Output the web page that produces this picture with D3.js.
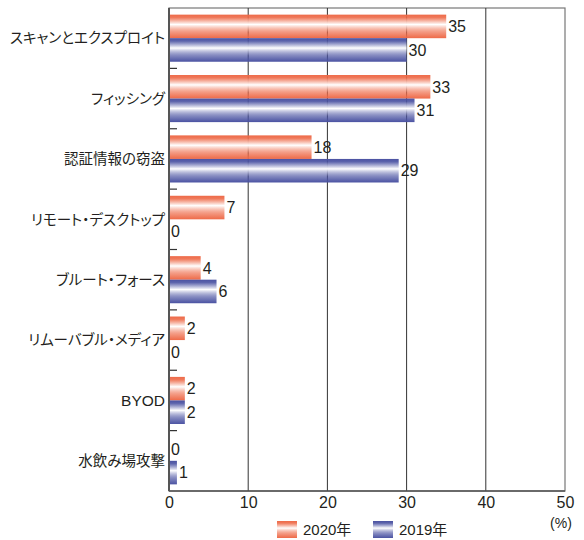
<!DOCTYPE html>
<html>
<head>
<meta charset="utf-8">
<script src="https://cdn.jsdelivr.net/npm/d3@7/dist/d3.min.js"></script>
<style>
  body { margin: 0; background: #fff; }
  svg { display: block; }
  .cat { font-feature-settings: "palt"; }
</style>
</head>
<body>
<svg id="chart" width="584" height="540"></svg>
<script>
// Attack vectors and share of incidents (%) by year
const categories = [
  "スキャンとエクスプロイト",
  "フィッシング",
  "認証情報の窃盗",
  "リモート・デスクトップ",
  "ブルート・フォース",
  "リムーバブル・メディア",
  "BYOD",
  "水飲み場攻撃"
];
const values2020 = [35, 33, 18, 7, 4, 2, 2, 0];
const values2019 = [30, 31, 29, 0, 6, 0, 2, 1];
const seriesNames = ["2020年", "2019年"];
const xTicks = [0, 10, 20, 30, 40, 50];

const svg = d3.select("#chart");
const margin = { left: 169, right: 19, top: 8, bottom: 49 };
const W = 584, H = 540;
const plotW = W - margin.left - margin.right;
const plotH = H - margin.top - margin.bottom;

const x = d3.scaleLinear().domain([0, 50]).range([margin.left, margin.left + plotW]);
const y = d3.scaleBand().domain(categories).range([margin.top, margin.top + plotH]).paddingInner(0.22).paddingOuter(0.11);
const sub = d3.scaleBand().domain(seriesNames).range([0, y.bandwidth()]);

// Gradients: saturated edges fading to white near the middle
const defs = svg.append("defs");
function grad(id, c) {
  const g = defs.append("linearGradient").attr("id", id)
    .attr("x1", 0).attr("y1", 0).attr("x2", 0).attr("y2", 1);
  [[0, c, 1], [0.12, c, 0.9], [0.42, "#ffffff", 1], [0.75, c, 0.7], [1, c, 1]].forEach(s => {
    g.append("stop").attr("offset", s[0]).attr("stop-color", s[1]).attr("stop-opacity", s[2]);
  });
}
grad("g2020", "#ee6a48");
grad("g2019", "#4a52a2");
const fills = { "2020年": "url(#g2020)", "2019年": "url(#g2019)" };

// Plot frame and vertical gridlines
svg.append("rect")
  .attr("x", margin.left).attr("y", margin.top)
  .attr("width", plotW).attr("height", plotH)
  .attr("fill", "none").attr("stroke", "#777").attr("stroke-width", 1.2);

svg.append("g").selectAll("line").data(xTicks.slice(1, -1)).join("line")
  .attr("x1", d => x(d)).attr("x2", d => x(d))
  .attr("y1", margin.top).attr("y2", margin.top + plotH)
  .attr("stroke", "#333").attr("stroke-width", 1);

// Bars
const rows = categories.map((c, i) => ({ c, vals: [values2020[i], values2019[i]] }));
const groups = svg.append("g").selectAll("g").data(rows).join("g")
  .attr("transform", d => `translate(0,${y(d.c)})`);

groups.selectAll("rect").data(d => d.vals.map((v, j) => ({ s: seriesNames[j], v }))).join("rect")
  .attr("x", x(0))
  .attr("y", d => sub(d.s))
  .attr("width", d => x(d.v) - x(0))
  .attr("height", sub.bandwidth())
  .attr("fill", d => fills[d.s]);

groups.selectAll("text").data(d => d.vals.map((v, j) => ({ s: seriesNames[j], v }))).join("text")
  .attr("x", d => x(d.v) + 2)
  .attr("y", d => sub(d.s) + sub.bandwidth() / 2)
  .attr("dy", "0.36em")
  .attr("font-family", "'Liberation Sans', Arial, sans-serif")
  .attr("font-size", 16)
  .attr("fill", "#231f20")
  .text(d => d.v);

// Left axis with category labels and inward separators
const boundaries = categories.slice(1).map(c => y(c) - y.step() * y.paddingInner() / 2);
svg.append("g").selectAll("line").data(boundaries).join("line")
  .attr("x1", margin.left).attr("x2", margin.left + 8)
  .attr("y1", d => d).attr("y2", d => d)
  .attr("stroke", "#333").attr("stroke-width", 1.2);

svg.append("line")
  .attr("x1", margin.left).attr("x2", margin.left)
  .attr("y1", margin.top).attr("y2", margin.top + plotH)
  .attr("stroke", "#555").attr("stroke-width", 2);
svg.append("line")
  .attr("x1", margin.left).attr("x2", margin.left + plotW)
  .attr("y1", margin.top + plotH).attr("y2", margin.top + plotH)
  .attr("stroke", "#555").attr("stroke-width", 1.5);

const isLatin = s => /^[\x00-\x7f]+$/.test(s);
svg.append("g").selectAll("text").data(categories).join("text")
  .attr("class", "cat")
  .attr("x", margin.left - 4)
  .attr("y", d => y(d) + y.bandwidth() / 2)
  .attr("dy", "0.36em")
  .attr("text-anchor", "end")
  .attr("font-family", d => isLatin(d) ? "'Liberation Sans', Arial, sans-serif" : "'Noto Sans CJK JP', sans-serif")
  .attr("font-size", d => isLatin(d) ? 15.5 : 14.5)
  .attr("fill", "#231f20")
  .text(d => d);

// Bottom axis
const xAxis = d3.axisBottom(x).tickValues(xTicks).tickSize(0).tickPadding(6);
const ax = svg.append("g").attr("transform", `translate(0,${margin.top + plotH})`).call(xAxis);
ax.select(".domain").remove();
ax.selectAll("text")
  .attr("font-family", "'Liberation Sans', Arial, sans-serif")
  .attr("font-size", 16)
  .attr("fill", "#231f20");

svg.append("text")
  .attr("x", 561).attr("y", 523)
  .attr("dy", "0.36em")
  .attr("text-anchor", "middle")
  .attr("font-family", "'Liberation Sans', Arial, sans-serif")
  .attr("font-size", 14)
  .attr("fill", "#231f20")
  .text("(%)");

// Legend
const legend = svg.append("g");
const legendX = [277, 373];
seriesNames.forEach((s, i) => {
  legend.append("rect")
    .attr("x", legendX[i]).attr("y", 521)
    .attr("width", 20).attr("height", 17)
    .attr("fill", fills[s]);
  legend.append("text")
    .attr("x", legendX[i] + 26).attr("y", 530)
    .attr("dy", "0.36em")
    .attr("font-family", "'Liberation Sans', 'Noto Sans CJK JP', sans-serif")
    .attr("font-size", 15)
    .attr("fill", "#231f20")
    .text(s);
});
</script>
</body>
</html>
